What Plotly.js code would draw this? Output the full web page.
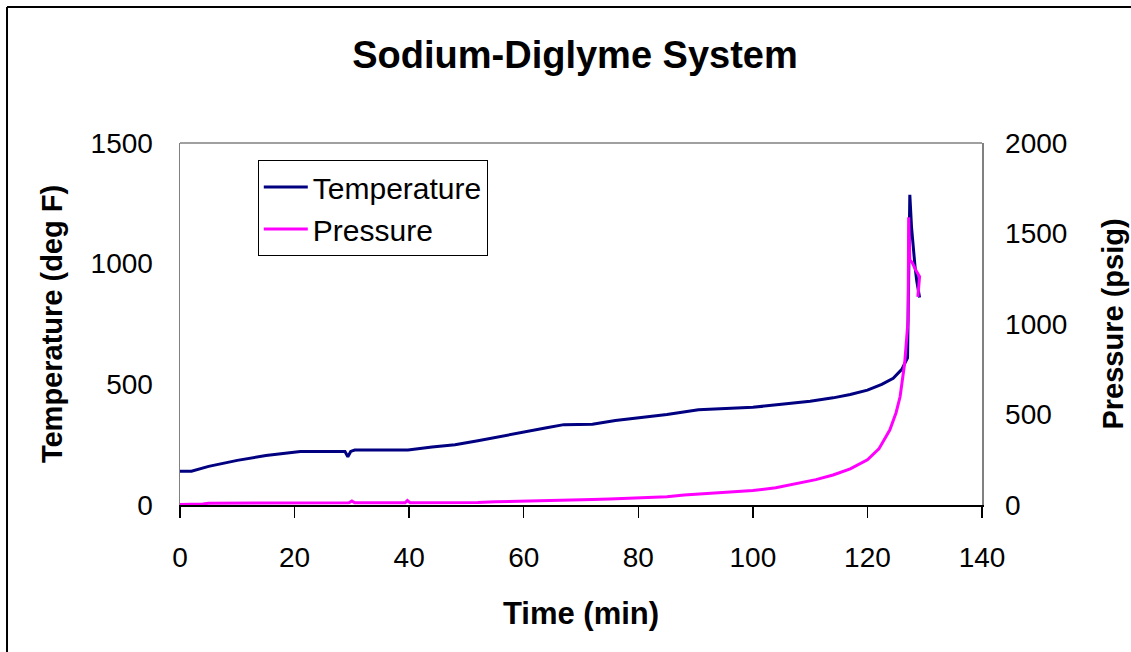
<!DOCTYPE html>
<html>
<head>
<meta charset="utf-8">
<script src="https://cdn.plot.ly/plotly-3.0.1.min.js"></script>
<style>html,body{margin:0;padding:0;background:#fff;}#chart{width:1131px;height:652px;}</style>
</head>
<body>
<div id="chart"></div>
<script>
const tempTime = [0, 2, 5, 10, 15, 20, 21, 25, 28.8, 29.3, 29.8, 30.5, 35, 39.8, 44, 48, 52, 56, 60, 64, 67, 72, 76, 80, 85, 90.5, 95, 100, 105, 110, 114, 117, 120, 122.5, 124.5, 126, 127, 127.2, 127.4, 127.7, 128, 128.3, 128.6, 128.9, 129.1];
const tempValues = [140, 140, 160, 185, 205, 220, 222, 222, 222, 200, 222, 228, 228, 228, 240, 250, 266, 285, 302, 320, 333, 335, 350, 362, 375, 395, 399, 405, 417, 430, 444, 458, 476, 500, 525, 562, 610, 900, 1285, 1150, 1060, 990, 930, 880, 860];
const presTime = [0, 4, 5, 20, 29.5, 30, 30.5, 39.3, 39.7, 40.2, 47, 52, 55, 62.8, 65, 72, 75, 80, 85, 88, 92, 96, 100, 104, 108, 111, 114, 117, 120, 122, 123.9, 125, 125.7, 126.5, 127.1, 127.2, 127.4, 127.8, 128.4, 129.1, 128.8];
const presValues = [3, 5, 10, 10, 12, 22, 12, 12, 25, 12, 12, 14, 18, 22, 24, 30, 33, 37, 45, 55, 62, 70, 80, 95, 120, 140, 166, 200, 250, 310, 414, 510, 598, 783, 1022, 1590, 1354, 1340, 1300, 1262, 1150];
const xTicks = [0, 20, 40, 60, 80, 100, 120, 140];
const yTicksLeft = [0, 500, 1000, 1500];
const yTicksRight = [0, 500, 1000, 1500, 2000];

const FONT = 'Liberation Sans, Arial, sans-serif';

const traces = [
  {x: tempTime, y: tempValues, name: 'Temperature', type: 'scatter', mode: 'lines',
   line: {color: '#000080', width: 3}, yaxis: 'y', legendgroup: 'a'},
  {x: presTime, y: presValues, name: 'Pressure', type: 'scatter', mode: 'lines',
   line: {color: '#FF00FF', width: 3}, yaxis: 'y2', legendgroup: 'b'}
];

const layout = {
  width: 1131, height: 652,
  margin: {l: 180, r: 149, t: 143, b: 147, pad: 0},
  paper_bgcolor: '#ffffff', plot_bgcolor: '#ffffff',
  font: {family: FONT, color: '#000'},
  title: {text: '<b>Sodium-Diglyme System</b>', font: {size: 38, family: FONT, color: '#000'},
          x: 0.4925, xref: 'paper', xanchor: 'center', y: 0.9156, yref: 'container', yanchor: 'middle', automargin: false},
  showlegend: true,
  legend: {x: 0.097, y: 0.953, xanchor: 'left', yanchor: 'top', bgcolor: '#fff',
           bordercolor: '#000', borderwidth: 1, font: {size: 30, family: FONT},
           traceorder: 'grouped', tracegroupgap: 0, itemwidth: 44},
  xaxis: {range: [0, 140], tickvals: xTicks, ticktext: xTicks.map(String),
          showgrid: false, zeroline: false, showline: true, linecolor: '#000', linewidth: 1.5,
          ticks: 'outside', ticklen: 11, tickcolor: '#000', tickwidth: 1.5,
          tickfont: {size: 28, family: FONT}, ticklabelstandoff: 16,
          title: {text: '<b>Time (min)</b>', font: {size: 31, family: FONT}, standoff: 30}},
  yaxis: {range: [0, 1500], tickvals: yTicksLeft, ticktext: yTicksLeft.map(String),
          showgrid: false, zeroline: false, showline: true, linecolor: '#808080', linewidth: 1.5,
          ticks: '', tickfont: {size: 28, family: FONT}, ticklabelstandoff: 20,
          title: {text: '<b>Temperature (deg F)</b>', font: {size: 29, family: FONT}, standoff: 19}},
  yaxis2: {range: [0, 2000], tickvals: yTicksRight, ticktext: yTicksRight.map(String),
           overlaying: 'y', side: 'right', showgrid: false, zeroline: false,
           showline: true, linecolor: '#808080', linewidth: 1.5, ticks: '',
           tickfont: {size: 28, family: FONT}, ticklabelstandoff: 16,
           title: {text: '<b>Pressure (psig)</b>', font: {size: 29, family: FONT}, standoff: 36}},
  shapes: [
    {type: 'line', xref: 'paper', yref: 'paper', x0: 0, x1: 1, y0: 1, y1: 1,
     line: {color: '#808080', width: 1.5}},
    {type: 'line', xref: 'paper', yref: 'paper', x0: -0.2157, x1: 1.19, y0: 1.3757, y1: 1.3757,
     line: {color: '#000', width: 2}},
    {type: 'line', xref: 'paper', yref: 'paper', x0: -0.2157, x1: -0.2157, y0: 1.3757, y1: -0.41,
     line: {color: '#000', width: 2}}
  ]
};

Plotly.newPlot('chart', traces, layout, {staticPlot: true, displayModeBar: false});
</script>
</body>
</html>
